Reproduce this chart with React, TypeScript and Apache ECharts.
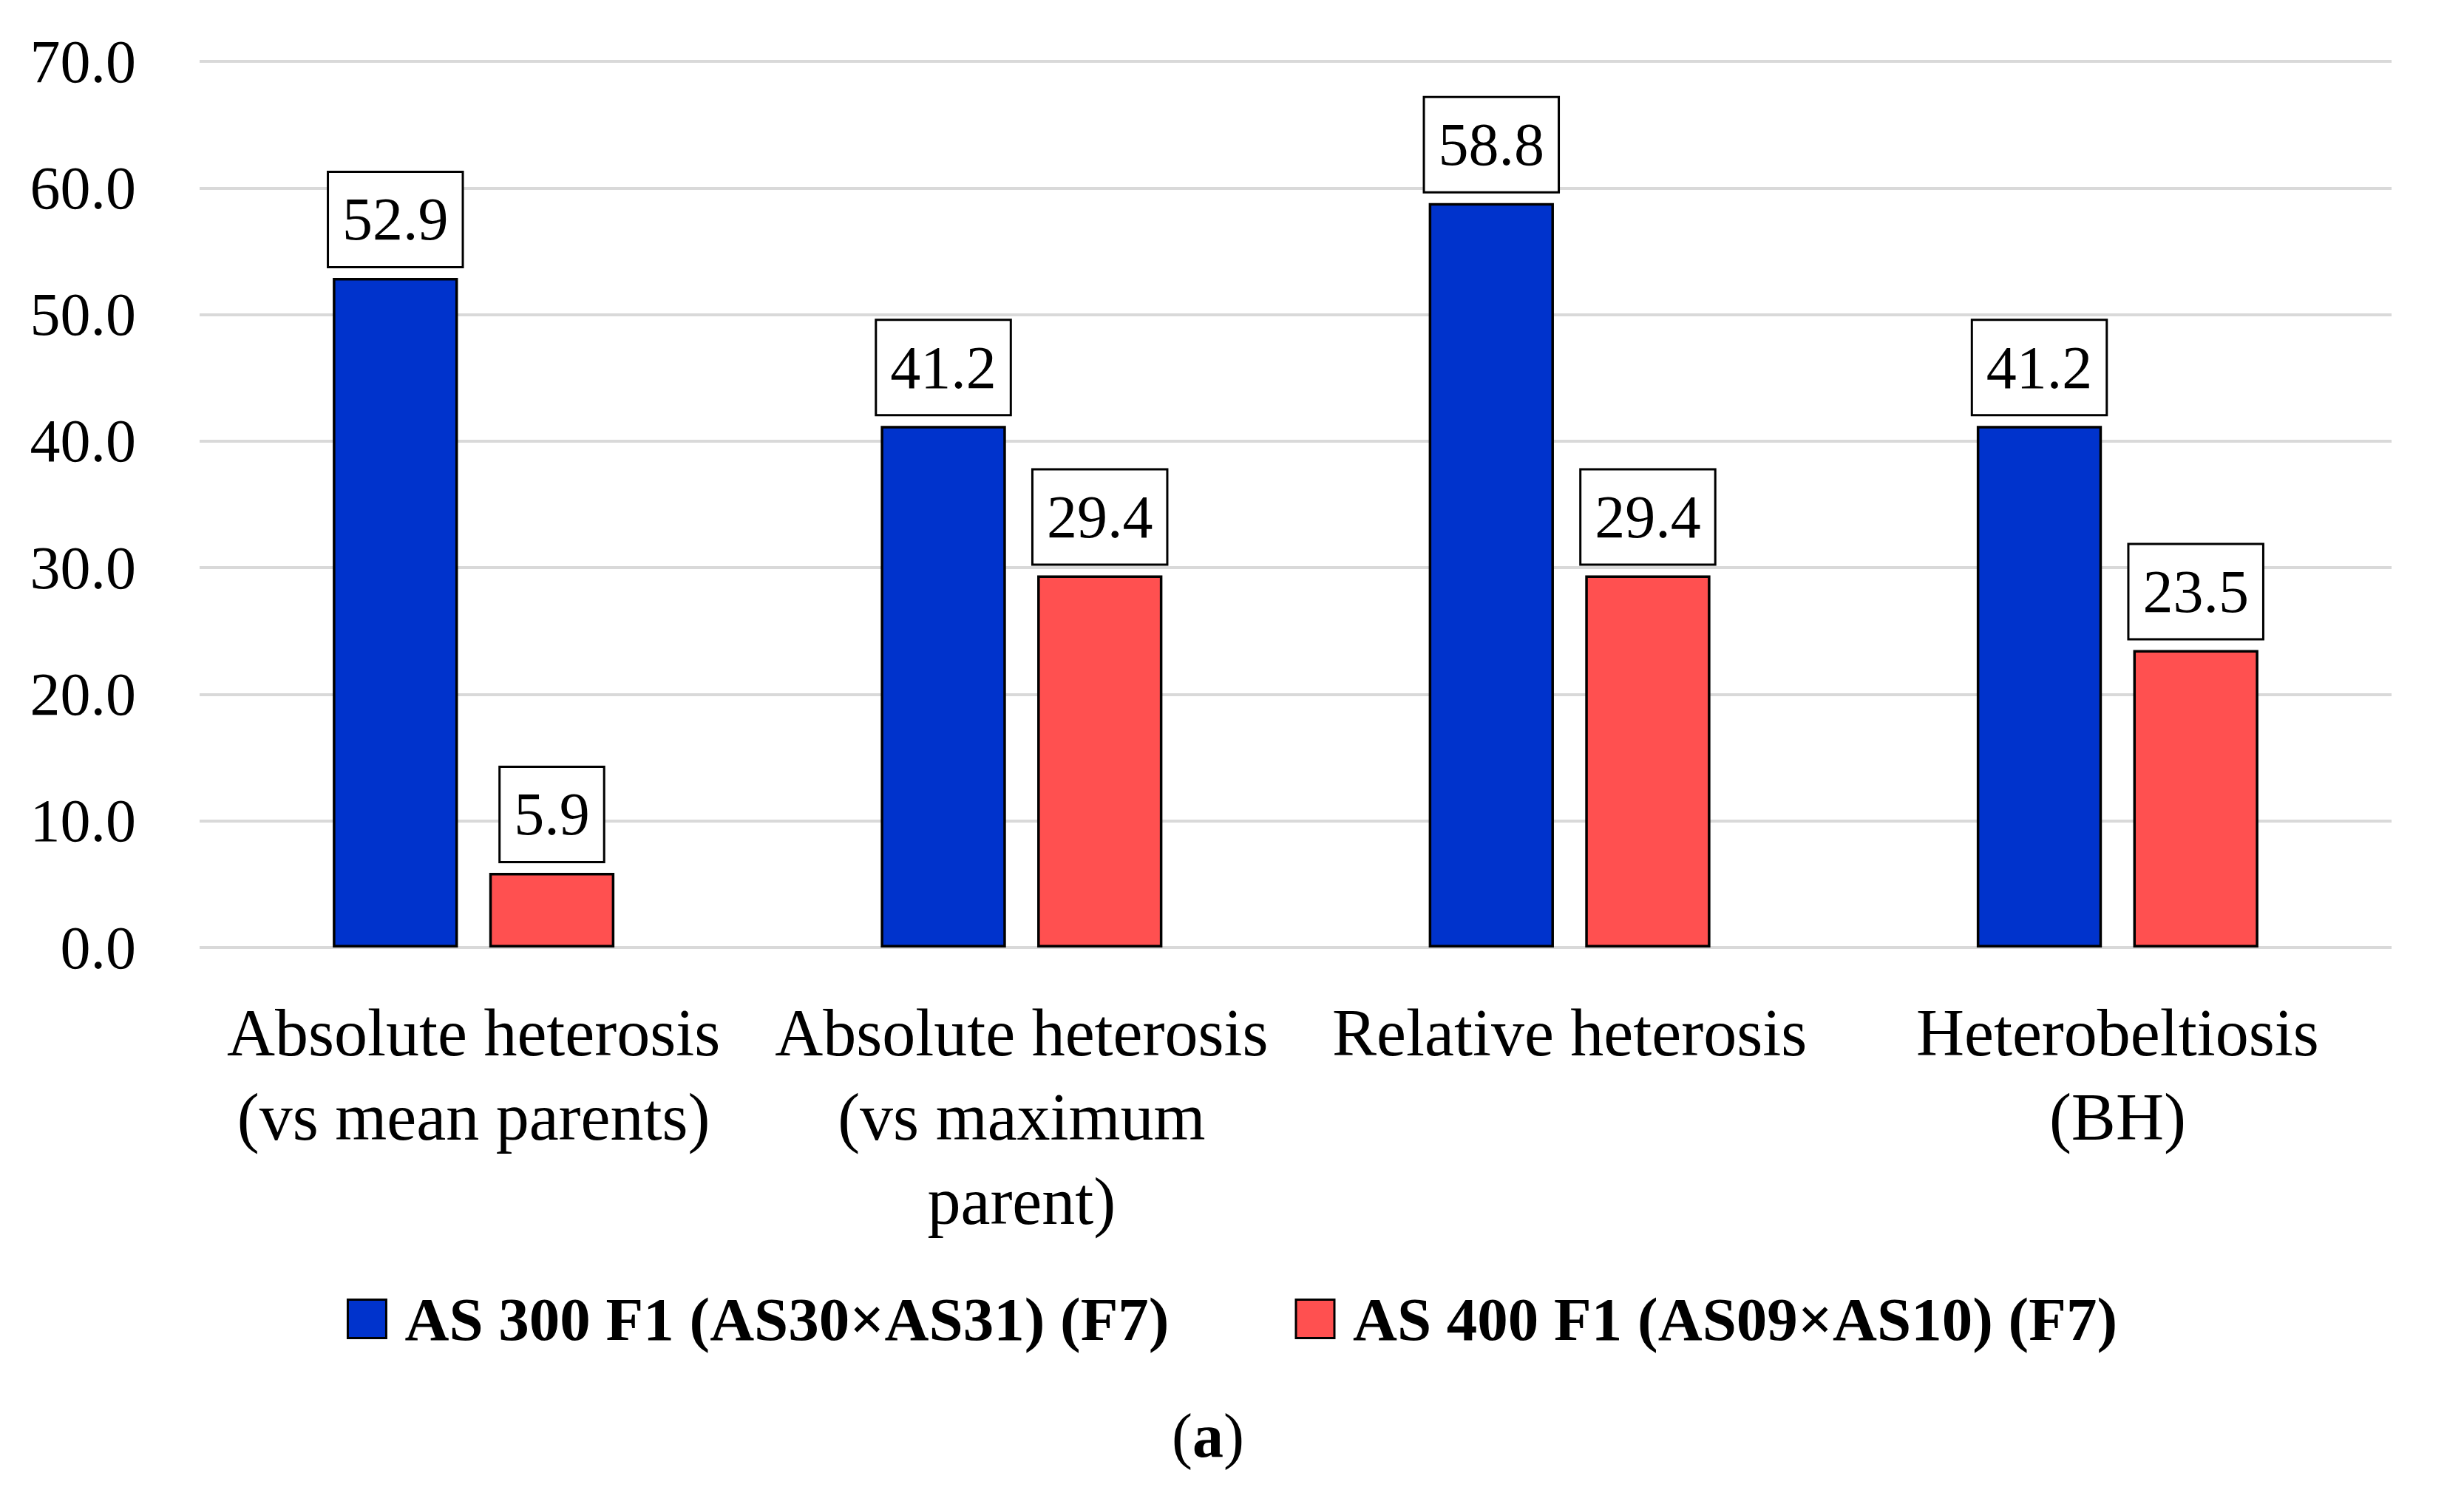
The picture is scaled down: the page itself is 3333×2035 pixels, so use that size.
import React, { useEffect, useRef } from "react";
import * as echarts from "echarts";

const categories = [
  "Absolute heterosis\n(vs mean parents)",
  "Absolute heterosis\n(vs maximum\nparent)",
  "Relative heterosis",
  "Heterobeltiosis\n(BH)",
];
const seriesNames = ["AS 300 F1 (AS30×AS31) (F7)", "AS 400 F1 (AS09×AS10) (F7)"];
const as300 = [52.9, 41.2, 58.8, 41.2];
const as400 = [5.9, 29.4, 29.4, 23.5];
const seriesColors = ["#0033CC", "#FF5050"];
const yMin = 0;
const yMax = 70;
const yInterval = 10;

const SERIF = '"Liberation Serif", "Times New Roman", serif';

export default function App() {
  const ref = useRef<HTMLDivElement>(null);
  useEffect(() => {
    if (!ref.current) return;
    const chart = echarts.init(ref.current, undefined, { renderer: "svg" });
    const labelStyle = {
      show: true,
      position: "top",
      distance: 16,
      formatter: (p: any) => Number(p.value).toFixed(1),
      fontFamily: SERIF,
      fontSize: 82,
      color: "#000",
      backgroundColor: "#fff",
      borderColor: "#000",
      borderWidth: 3,
      padding: [22, 18, 22, 18],
    };
    const values = [as300, as400];
    chart.setOption({
      animation: false,
      backgroundColor: "#fff",
      grid: { left: 270, right: 98, top: 83, bottom: 753, containLabel: false },
      legend: {
        top: 1738,
        left: "center",
        itemWidth: 52,
        itemHeight: 52,
        itemGap: 170,
        icon: "rect",
        itemStyle: { borderColor: "#000", borderWidth: 3 },
        textStyle: {
          fontFamily: SERIF,
          fontWeight: "bold",
          fontSize: 83,
          color: "#000",
          padding: [0, 0, 0, 20],
        },
        data: seriesNames,
      },
      title: {
        text: "{p|(}{b|a}{p|)}",
        left: 1580,
        top: 1895,
        textStyle: {
          fontWeight: "normal",
          rich: {
            p: { fontFamily: SERIF, fontSize: 84, fontWeight: "normal", color: "#000" },
            b: { fontFamily: SERIF, fontSize: 84, fontWeight: "bold", color: "#000" },
          },
        },
      },
      xAxis: {
        type: "category",
        data: categories,
        axisLine: { show: false },
        axisTick: { show: false },
        axisLabel: {
          interval: 0,
          margin: 58,
          fontFamily: SERIF,
          fontSize: 90,
          lineHeight: 114,
          color: "#000",
          align: "center",
        },
      },
      yAxis: {
        type: "value",
        min: yMin,
        max: yMax,
        interval: yInterval,
        axisLine: { show: false },
        axisTick: { show: false },
        splitLine: { lineStyle: { color: "#D9D9D9", width: 4 } },
        axisLabel: {
          margin: 86,
          fontFamily: SERIF,
          fontSize: 82,
          color: "#000",
          formatter: (v: number) => v.toFixed(1),
        },
      },
      series: seriesNames.map((name, i) => ({
        name,
        type: "bar",
        data: values[i],
        barGap: "25%",
        barCategoryGap: "48.6%",
        itemStyle: { color: seriesColors[i], borderColor: "#000", borderWidth: 3.5 },
        label: labelStyle,
      })),
    });
    return () => chart.dispose();
  }, []);
  return (
    <div
      ref={ref}
      style={{ position: "fixed", left: 0, top: 0, width: 3333, height: 2035, background: "#fff" }}
    />
  );
}
